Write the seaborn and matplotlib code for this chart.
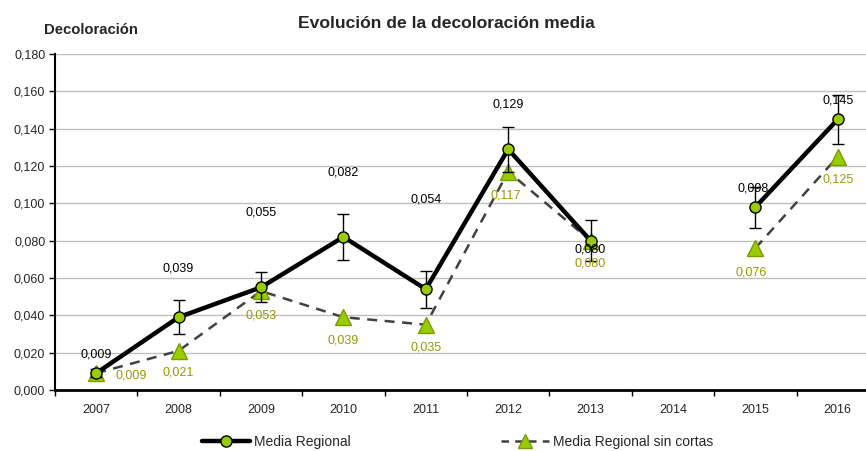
import numpy as np
import pandas as pd
import matplotlib
matplotlib.use("Agg")
import matplotlib.pyplot as plt
from matplotlib.lines import Line2D
import seaborn as sns

# Data
years = ["2007", "2008", "2009", "2010", "2011", "2012", "2013", "2014", "2015", "2016"]
media_regional = [0.009, 0.039, 0.055, 0.082, 0.054, 0.129, 0.080, np.nan, 0.098, 0.145]
media_err = [0.002, 0.009, 0.008, 0.0125, 0.010, 0.012, 0.011, np.nan, 0.011, 0.013]
media_sin_cortas = [0.009, 0.021, 0.053, 0.039, 0.035, 0.117, 0.080, np.nan, 0.076, 0.125]
yticks = [0.000, 0.020, 0.040, 0.060, 0.080, 0.100, 0.120, 0.140, 0.160, 0.180]

# Label placement offsets in pixels (dx, dy)
black_offsets = [(0, 19), (0, 49), (0, 75), (0, 64), (0, 90), (0, 45), (0, -9), (-2, 19), (0, 19)]
green_offsets = [(35, -2), (0, -22), (0, -24), (0, -23), (0, -23), (-2, -24), (0, -23), (-4, -24), (0, -23)]

sns.set_theme(style="white")
plt.rcParams["font.family"] = ["Liberation Sans", "DejaVu Sans"]

GREEN = "#99CC00"
GREEN_EDGE = "#7A9A00"
OLIVE = "#999900"

x = np.arange(len(years))
segment = [0 if i < 7 else 1 for i in range(len(years))]
df = pd.DataFrame({
    "x": x,
    "media": media_regional,
    "err": media_err,
    "sin": media_sin_cortas,
    "seg": segment,
}).dropna()

fig = plt.figure(figsize=(8.66, 4.51), dpi=100)
ax = fig.add_axes([55 / 866, (451 - 390) / 451, 824 / 866, 336 / 451])

# Gridlines
ax.set_ylim(0, 0.18)
ax.set_yticks(yticks)
ax.set_yticklabels([f"{v:.3f}".replace(".", ",") for v in yticks], fontsize=9)
ax.yaxis.grid(True, color="#C0C0C0", linewidth=1)
ax.xaxis.grid(False)
ax.set_axisbelow(True)

# Dashed series
sns.lineplot(data=df, x="x", y="sin", units="seg", estimator=None, ax=ax,
             color="#404040", linewidth=1.8, linestyle=(0, (4, 3)),
             marker="^", markersize=11, markerfacecolor=GREEN,
             markeredgecolor=GREEN_EDGE, markeredgewidth=1, zorder=3)

# Error bars
ax.errorbar(df["x"], df["media"], yerr=df["err"], fmt="none", ecolor="black",
            elinewidth=1, capsize=4, capthick=1, zorder=4)

# Solid series
sns.lineplot(data=df, x="x", y="media", units="seg", estimator=None, ax=ax,
             color="black", linewidth=3.2, marker="o", markersize=8,
             markerfacecolor=GREEN, markeredgecolor="black", markeredgewidth=1,
             zorder=5)

# Value labels
valid = [i for i in range(len(years)) if not np.isnan(media_regional[i])]
for k, i in enumerate(valid):
    dx, dy = black_offsets[k]
    ax.annotate(f"{media_regional[i]:.3f}".replace(".", ","), (x[i], media_regional[i]),
                xytext=(dx, dy), textcoords="offset pixels", ha="center", va="center",
                fontsize=9, color="black", zorder=6)
    dx, dy = green_offsets[k]
    ax.annotate(f"{media_sin_cortas[i]:.3f}".replace(".", ","), (x[i], media_sin_cortas[i]),
                xytext=(dx, dy), textcoords="offset pixels", ha="center", va="center",
                fontsize=9, color=OLIVE, zorder=6)

# Axes styling
ax.set_xlim(-0.5, len(years) - 0.5)
ax.set_xticks(x)
ax.set_xticklabels(years, fontsize=9)
ax.set_xticks(np.arange(-0.5, len(years), 1.0), minor=True)
ax.tick_params(axis="x", which="major", length=0, pad=10)
ax.tick_params(axis="x", which="minor", length=4, width=1, color="black", direction="out", bottom=True)
ax.tick_params(axis="y", which="major", length=4, width=1, color="black", direction="out", left=True, pad=3)
ax.set_xlabel("")
ax.set_ylabel("")
for s in ["top", "right"]:
    ax.spines[s].set_visible(False)
ax.spines["left"].set_color("black")
ax.spines["left"].set_linewidth(1.5)
ax.spines["bottom"].set_color("black")
ax.spines["bottom"].set_linewidth(2)

# Titles
fig.text(446 / 866, 1 - 24 / 451, "Evolución de la decoloración media", ha="center", va="center",
         fontsize=12.6, fontweight="bold")
fig.text(91 / 866, 1 - 30 / 451, "Decoloración", ha="center", va="center",
         fontsize=10.7, fontweight="bold")

# Legend
h1 = Line2D([], [], color="black", linewidth=3.2, marker="o", markersize=8,
            markerfacecolor=GREEN, markeredgecolor="black")
h2 = Line2D([], [], color="#404040", linewidth=1.8, linestyle=(0, (3, 2.5)), marker="^",
            markersize=10, markerfacecolor=GREEN, markeredgecolor=GREEN_EDGE)
fig.legend([h1, h2], ["Media Regional", "Media Regional sin cortas"], ncol=2,
           loc="center", bbox_to_anchor=(458 / 866, 1 - 442 / 451), frameon=False,
           fontsize=10, handlelength=3.45, handletextpad=0.3, columnspacing=10.8)

fig.savefig("out.png", dpi=100)
